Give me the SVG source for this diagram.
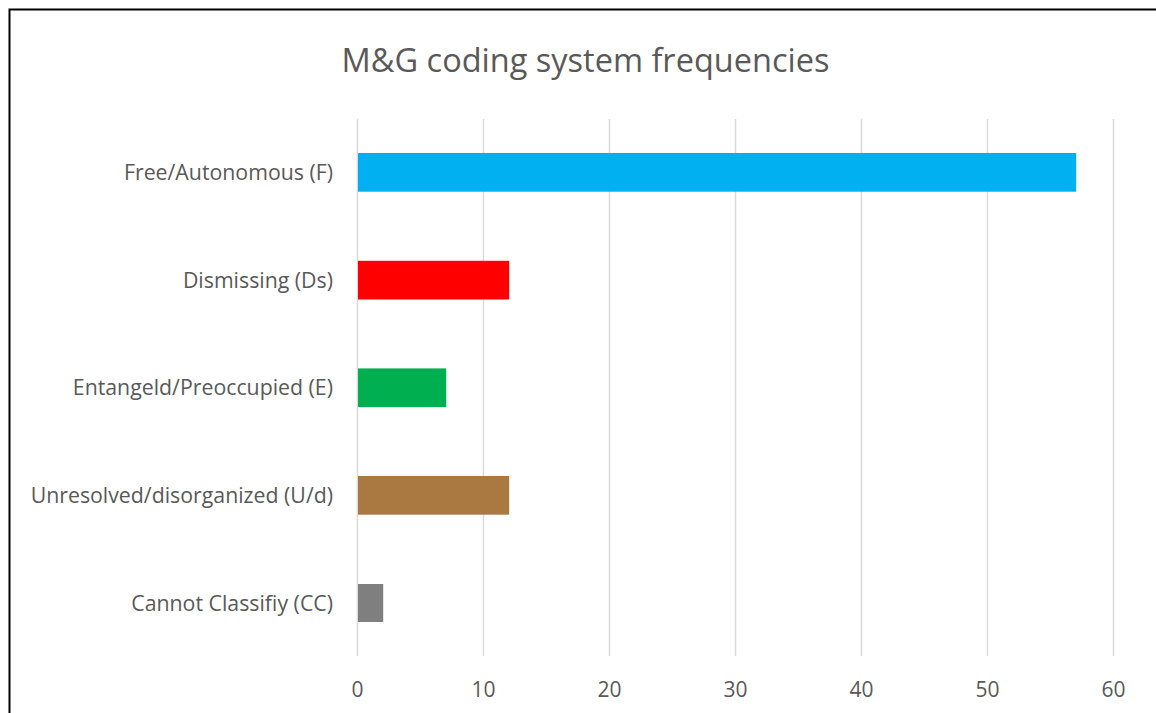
<svg xmlns="http://www.w3.org/2000/svg" width="1156" height="713" viewBox="0 0 1156 713">
  <style>
    .title { font-family: "Open Sans", "Liberation Sans", sans-serif; font-size: 32.5px; fill: #595959; }
    .cat { font-family: "Open Sans", "Liberation Sans", sans-serif; font-size: 21.3px; fill: #595959; text-anchor: end; }
    .tick { font-family: "Open Sans", "Liberation Sans", sans-serif; font-size: 21px; fill: #595959; text-anchor: middle; }
    .grid line { stroke: #D9D9D9; stroke-width: 1.5; }
  </style>
  <rect width="1156" height="713" fill="#FFFFFF"/>
  <!-- chart frame (continues past the right and bottom edges) -->
  <path d="M9.5,720 V9.5 H1165" fill="none" stroke="#000000" stroke-width="2"/>

  <text class="title" x="585.5" y="72" text-anchor="middle">M&amp;G coding system frequencies</text>

  <!-- vertical gridlines, 12.6 px per unit -->
  <g class="grid" id="gridlines">
    <line x1="357.5" y1="119" x2="357.5" y2="656"/>
    <line x1="483.5" y1="119" x2="483.5" y2="656"/>
    <line x1="609.5" y1="119" x2="609.5" y2="656"/>
    <line x1="735.5" y1="119" x2="735.5" y2="656"/>
    <line x1="861.5" y1="119" x2="861.5" y2="656"/>
    <line x1="987.5" y1="119" x2="987.5" y2="656"/>
    <line x1="1113.5" y1="119" x2="1113.5" y2="656"/>
  </g>

  <!-- bars -->
  <g id="bar-F">
    <rect x="358" y="153" width="718.2" height="38.7" fill="#00B0F0"/>
    <text class="cat" x="333" y="180">Free/Autonomous (F)</text>
  </g>
  <g id="bar-Ds">
    <rect x="358" y="260.8" width="151.2" height="38.7" fill="#FF0000"/>
    <text class="cat" x="333" y="288">Dismissing (Ds)</text>
  </g>
  <g id="bar-E">
    <rect x="358" y="368.4" width="88.2" height="38.7" fill="#00B050"/>
    <text class="cat" x="333" y="395">Entangeld/Preoccupied (E)</text>
  </g>
  <g id="bar-U">
    <rect x="358" y="476" width="151.2" height="38.7" fill="#AA7942"/>
    <text class="cat" x="333" y="503">Unresolved/disorganized (U/d)</text>
  </g>
  <g id="bar-CC">
    <rect x="358" y="584" width="25.2" height="38" fill="#7F7F7F"/>
    <text class="cat" x="333" y="611">Cannot Classifiy (CC)</text>
  </g>

  <!-- value axis labels -->
  <g id="axis">
    <text class="tick" x="357.5" y="697">0</text>
    <text class="tick" x="483.5" y="697">10</text>
    <text class="tick" x="609.5" y="697">20</text>
    <text class="tick" x="735.5" y="697">30</text>
    <text class="tick" x="861.5" y="697">40</text>
    <text class="tick" x="987.5" y="697">50</text>
    <text class="tick" x="1113.5" y="697">60</text>
  </g>
</svg>
